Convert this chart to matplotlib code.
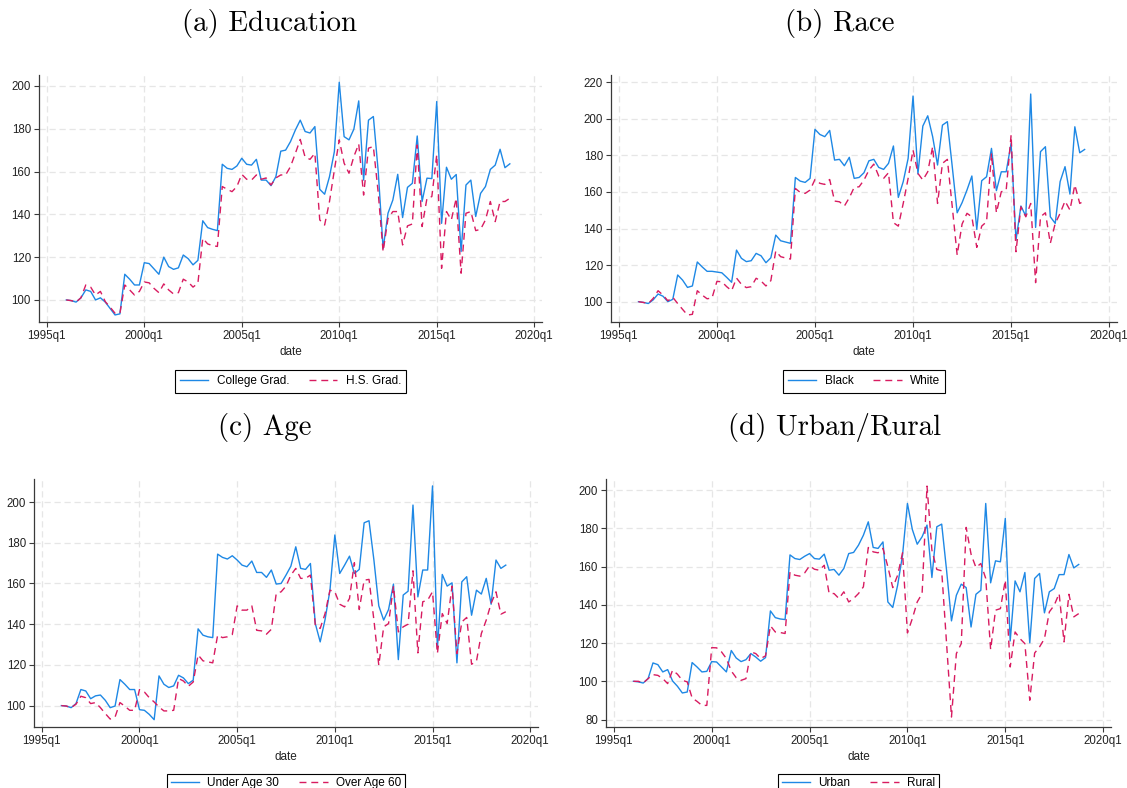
import matplotlib
matplotlib.use('Agg')
import numpy as np
import matplotlib.pyplot as plt

# quarterly index, 1996q1 .. 2018q4
quarters = 1996 + np.arange(92) / 4.0

college = [100, 99.7, 99, 101, 104.7, 104, 100, 101, 99, 96, 93, 93.5, 112, 109.7, 107, 107,
           117.4, 117, 114.5, 112, 120, 115.6, 114.3, 115, 121, 119.3, 116.4, 118.5, 137, 133.8, 133, 132.4,
           163.4, 161.5, 161, 162.6, 166.2, 163.4, 163, 165.7, 156, 156, 153.4, 157.6, 169.5, 170, 174, 179.4,
           184, 178.7, 178, 181, 151.7, 149.4, 157.6, 169.3, 201.7, 176.3, 174.8, 179.8, 193, 156, 184, 185.7,
           160, 124, 140.5, 146.7, 158.7, 138.5, 152.6, 154.5, 176.6, 146, 156.9, 156.7, 192.7, 135.8, 162, 156.4,
           158.6, 122.6, 153.7, 156, 139, 149.8, 153, 161, 163, 170.4, 161.8, 163.6]
hs_grad = [100, 99.7, 99, 101, 107, 106, 102.3, 104, 99.2, 96.6, 93.8, 93.8, 107, 104.7, 102.3, 104,
           108.4, 108, 105.4, 103.4, 107.5, 104.7, 102.8, 103.4, 109.7, 108.4, 106, 107.8, 128.8, 126.2, 125.4, 125,
           153, 151.7, 150.6, 153, 158.7, 156.4, 156, 158.4, 156.4, 157, 153.7, 157, 158.4, 158.4, 162.3, 168.5,
           175, 166.7, 165.7, 168.5, 137.4, 135, 146, 160.7, 174.8, 163.9, 159.2, 167, 172.9, 149, 170.9, 171.7,
           150, 122.6, 138, 141.3, 141.3, 125.7, 134.6, 135.5, 172.4, 134.3, 147.5, 148.3, 167.8, 114.8, 141.3, 137.4,
           147.5, 112.5, 140.5, 141.3, 132.4, 133, 137.4, 146, 136.6, 146, 146, 147.5]

black = [100, 99.6, 99, 101, 104.2, 103, 100, 101.3, 114.6, 111.8, 107.8, 108.6, 121.7, 119, 116.6, 116.6,
         116.2, 115.8, 113.3, 110.6, 128.2, 123.7, 121.9, 122.4, 126.4, 125.1, 121.3, 124, 136.4, 133.3, 132.6, 131.9,
         167.9, 165.9, 165.2, 167.4, 194.2, 191.4, 190.2, 193.6, 177.4, 177.8, 174.3, 178.9, 167.4, 167.9, 170.5, 177,
         177.8, 173.4, 172.3, 175.6, 185.1, 157, 165.6, 178.3, 212.4, 169.8, 196, 201.6, 190.2, 174.7, 196.5, 198.4,
         173.8, 148.6, 154.1, 161, 168.7, 139.5, 166.1, 168.3, 183.8, 160.7, 171, 171, 186.5, 133.7, 152.3, 146.8,
         213.5, 140.6, 182, 184.7, 146.4, 142.8, 165.6, 173.8, 158.8, 195.6, 181.4, 183.2]
white = [100, 99.6, 99, 101.8, 106, 103.6, 100.5, 102.4, 99, 95.8, 92.7, 93.1, 106, 103.6, 101.6, 102,
         111.1, 110.9, 108.2, 106, 112.9, 109.5, 107.7, 108.2, 112.8, 111.3, 108.6, 111.5, 127.7, 124.6, 123.9, 123.3,
         161.9, 159.7, 159.2, 161, 166.8, 164.7, 164.1, 166.8, 155, 154.6, 152.3, 156.8, 162.5, 162.8, 166.5, 171.9,
         175.2, 168.7, 167.4, 170.5, 143.2, 141.3, 153.7, 167.4, 182.9, 170.1, 166.5, 171, 184.7, 153.7, 175.6, 177.8,
         151.9, 125.5, 142.4, 148.3, 146.4, 129.7, 141.3, 143.7, 181.1, 148.6, 160.1, 161, 191.1, 127.3, 151.9, 146.4,
         153.7, 110.4, 146.4, 148.6, 131.9, 142.8, 148.3, 155, 150.1, 163.8, 153.7, 155.2]

under30 = [100, 99.8, 99, 101, 107.9, 107.2, 103.4, 104.8, 105.2, 102.6, 99, 99.8, 112.8, 110.5, 107.9, 107.9,
           98, 97.7, 95.7, 93.1, 114.6, 110.5, 108.9, 109.7, 114.9, 113.6, 110.8, 112.5, 137.7, 134.6, 133.8, 133.4,
           174.4, 172.8, 172, 173.6, 171.5, 169, 168.2, 171, 165.4, 165.4, 163, 166.6, 159.7, 160, 164.1, 168.5,
           178, 167.4, 166.9, 169.8, 140.3, 131.3, 142.3, 156.7, 183.8, 164.9, 169, 173.4, 164.9, 166.9, 189.8, 190.8,
           171.5, 149, 142, 147.2, 159.7, 122.6, 154.3, 156.2, 198.5, 153.4, 166.6, 166.6, 207.9, 128, 164.4, 158.7,
           160.3, 121, 160.8, 163.3, 144.4, 156.7, 154.8, 162.5, 149.8, 171.5, 167.4, 169]
over60 = [100, 99.8, 99, 100.7, 104.6, 103.9, 101, 101.5, 99, 96.1, 93.4, 94.4, 101.5, 99.7, 97.7, 97.7,
          107.9, 106.7, 103.9, 101.8, 99.3, 97.4, 97.4, 97.7, 113.3, 112.1, 109.5, 111.6, 124.9, 122, 121.5, 121,
          134.6, 133.4, 133.8, 134.9, 149, 146.9, 146.9, 149, 137, 136.7, 135.1, 137.5, 155.1, 155.9, 158.7, 164.1,
          167.4, 162.5, 162.5, 164.1, 139.5, 137.9, 145.2, 156.7, 155.9, 149.8, 148.5, 152.6, 170.2, 147.2, 161.6, 162,
          142, 119.8, 138.7, 140.3, 158.7, 136.2, 138.7, 140, 166.2, 125.9, 151, 151.8, 155.9, 125.6, 145.2, 140.3,
          158.7, 125.6, 141.1, 143.3, 120.3, 121.8, 135.4, 142, 150.2, 155.9, 144.9, 146.1]

urban = [100, 99.7, 99.1, 101.4, 109.6, 108.7, 104.9, 106.1, 100.2, 97.4, 93.9, 94.4, 109.8, 107.5, 104.9, 105.2,
         110.3, 110.1, 107.5, 104.9, 116.1, 112.2, 110.3, 111.3, 114.5, 112.7, 110.5, 112.4, 136.8, 133.3, 132.6, 132.3,
         166.1, 164.2, 163.7, 165.4, 166.8, 164.2, 163.9, 166.5, 158.1, 158.5, 155.5, 159, 166.8, 167.4, 171.2, 176.4,
         183.4, 170, 169.5, 172.9, 141.5, 138.6, 150.3, 166, 193, 179.4, 171.7, 175.6, 181.7, 154.3, 180.8, 182.2,
         158, 131.6, 145, 150.8, 149, 128.4, 145.5, 147.6, 193, 151.5, 163, 162.5, 185.2, 121.1, 152.5, 146.8,
         156.9, 120.1, 153.8, 156.4, 135.8, 146.8, 148.5, 155.8, 155.8, 166.3, 159.3, 161.1]
rural = [100, 100, 99.1, 101.4, 103.5, 103.1, 101.4, 98.8, 105.8, 103.7, 100.5, 99.7, 91.3, 89.5, 87.4, 87.4,
         117.6, 117.5, 115.4, 111.9, 105.4, 101.9, 100.5, 101.4, 115.4, 114.5, 111.9, 113.3, 129, 125.8, 125.5, 125,
         157.2, 155.5, 155, 156.7, 160.4, 158.6, 158.1, 160.7, 145.9, 145.9, 143.3, 146.8, 141.5, 143.3, 145.9, 149.4,
         170, 167.7, 167.2, 169.5, 159.9, 149, 155.5, 167.2, 125.3, 132.8, 141.5, 145.9, 202.1, 168.6, 158.5, 157.8,
         119.7, 81.3, 114.5, 119.7, 180.5, 166.5, 159.5, 161.6, 153.8, 116.6, 137.2, 138, 152.9, 107.5, 125.8, 122.3,
         119.7, 90.1, 114.8, 118, 122.3, 136.3, 139.8, 145.9, 120.6, 145.5, 133.7, 135.4]

xtick_years = [1995, 2000, 2005, 2010, 2015, 2020]
xtick_labels = ['%dq1' % y for y in xtick_years]

W, H = 1127, 788
BLUE = '#1E88E5'
RED = '#D81B60'

plt.rcParams['font.family'] = 'Liberation Sans'

fig = plt.figure(figsize=(W / 100, H / 100), dpi=100)


def panel(box, title, title_xy, y1, y2, labels, ylim, yticks, leg_top, leg_pad):
    left, top, right, bottom = box
    ax = fig.add_axes([left / W, 1 - bottom / H, (right - left) / W, (bottom - top) / H])
    ax.plot(quarters, y1, color=BLUE, lw=1.0, label=labels[0])
    ax.plot(quarters, y2, color=RED, lw=1.0, ls=(0, (5, 3.5)), label=labels[1])
    ax.set_xlim(1994.6, 2020.4)
    ax.set_ylim(*ylim)
    ax.set_xticks(xtick_years)
    ax.set_xticklabels(xtick_labels)
    ax.set_yticks(yticks)
    ax.grid(True, color='#e6e6e6', ls=(0, (5, 3)), lw=0.9)
    ax.set_axisbelow(True)
    for s in ['top', 'right']:
        ax.spines[s].set_visible(False)
    for s in ['left', 'bottom']:
        ax.spines[s].set_color('#3a3a3a')
        ax.spines[s].set_linewidth(0.9)
    ax.tick_params(length=3.3, width=0.8, color='#3a3a3a', labelsize=8.3, pad=2.5, labelcolor='#222222')
    ax.set_xlabel('date', fontsize=8.5, labelpad=3, color='#222222')
    fig.text(title_xy[0] / W, 1 - title_xy[1] / H, title, fontsize=20.8, family='cmr10',
             ha='center', va='center')
    ax.legend(loc='upper center', bbox_to_anchor=((left + right) / 2 / W, 1 - leg_top / H),
              bbox_transform=fig.transFigure, ncol=2, fontsize=8.5, frameon=True, fancybox=False,
              edgecolor='black', framealpha=1, handlelength=2.4, handletextpad=0.7,
              columnspacing=1.7, borderpad=leg_pad)
    ax.get_legend().get_frame().set_linewidth(0.8)
    return ax


panel((39, 75, 542, 322), '(a) Education', (270, 23), college, hs_grad,
      ['College Grad.', 'H.S. Grad.'], (89.7, 205.1), range(100, 201, 20), 364, 0.45)
panel((611, 75, 1117, 322), '(b) Race', (840, 23), black, white,
      ['Black', 'White'], (88.9, 223.9), range(100, 221, 20), 364, 0.45)
panel((34, 479, 538, 727), '(c) Age', (265, 428), under30, over60,
      ['Under Age 30', 'Over Age 60'], (89.5, 211.3), range(100, 201, 20), 768, 0.3)
panel((606, 479, 1111, 727), '(d) Urban/Rural', (835, 428), urban, rural,
      ['Urban', 'Rural'], (76.1, 205.8), range(80, 201, 20), 768, 0.3)

fig.savefig('out.png', dpi=100)
